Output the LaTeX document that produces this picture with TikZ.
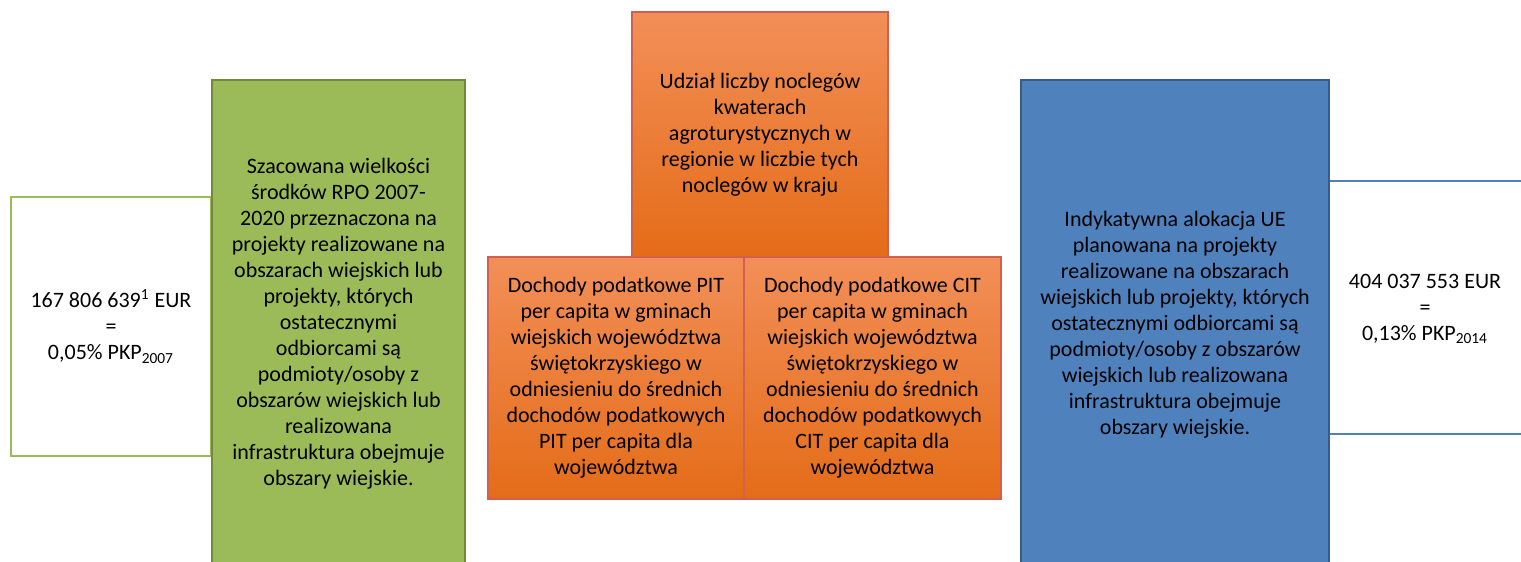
\documentclass[tikz,border=0pt]{standalone}
\usepackage{fontspec}
\setmainfont{Carlito}
\usepackage{tikz}
\usetikzlibrary{positioning}
\definecolor{leafgreen}{RGB}{155,187,89}
\definecolor{darkgreen}{RGB}{113,137,63}
\definecolor{steelblue}{RGB}{79,129,189}
\definecolor{darkblue}{RGB}{56,93,138}
\definecolor{orangetop}{RGB}{242,143,88}
\definecolor{orangebot}{RGB}{228,108,24}
\definecolor{orangeline}{RGB}{210,95,80}

\begin{document}
\begin{tikzpicture}[x=0.5pt, y=-0.5pt,
    every node/.style={font=\fontsize{11pt}{13pt}\selectfont, align=center, inner sep=0pt},
    valuebox/.style={draw=leafgreen, line width=1pt, fill=white},
    greenbox/.style={draw=darkgreen, line width=1pt, fill=leafgreen},
    bluebox/.style={draw=darkblue, line width=1pt, fill=steelblue},
    orangebox/.style={draw=orangeline, line width=0.6pt, top color=orangetop, bottom color=orangebot}]
  \useasboundingbox (0,0) rectangle (1521,562);
  \clip (0,0) rectangle (1521,562);

  % Left value
  \node[valuebox, minimum width=100pt, minimum height=129.5pt] (valueL) at (111,326.5)
    {167 806 639\textsuperscript{1} EUR\\=\\0,05\% PKP\textsubscript{2007}};

  % Green RPO 2007-2020
  \node[greenbox, minimum width=126.5pt, minimum height=244pt] (rpo) at (338.5,324)
    {Szacowana wielkości\\środków RPO 2007-\\2020 przeznaczona na\\projekty realizowane na\\obszarach wiejskich lub\\projekty, których\\ostatecznymi\\odbiorcami są\\podmioty/osoby z\\obszarów wiejskich lub\\realizowana\\infrastruktura obejmuje\\obszary wiejskie.};

  % Orange indicators
  \node[orangebox, minimum width=128pt, minimum height=122.5pt] (noclegi) at (760,134.5)
    {Udział liczby noclegów\\kwaterach\\agroturystycznych w\\regionie w liczbie tych\\noclegów w kraju};
  \node[orangebox, minimum width=128pt, minimum height=121pt] (pit) at (616,378)
    {Dochody podatkowe PIT\\per capita w gminach\\wiejskich województwa\\świętokrzyskiego w\\odniesieniu do średnich\\dochodów podatkowych\\PIT per capita dla\\województwa};
  \node[orangebox, minimum width=128.5pt, minimum height=121pt] (cit) at (872.5,378)
    {Dochody podatkowe CIT\\per capita w gminach\\wiejskich województwa\\świętokrzyskiego w\\odniesieniu do średnich\\dochodów podatkowych\\CIT per capita dla\\województwa};

  % Blue allocation
  \node[bluebox, minimum width=154pt, minimum height=245pt] (alok) at (1175,325)
    {Indykatywna alokacja UE\\planowana na projekty\\realizowane na obszarach\\wiejskich lub projekty, których\\ostatecznymi odbiorcami są\\podmioty/osoby z obszarów\\wiejskich lub realizowana\\infrastruktura obejmuje\\obszary wiejskie.};

  % Right value
  \node (valueR) at (1425,309) {404 037 553 EUR\\=\\0,13\% PKP\textsubscript{2014}};
  \coordinate (topR) at (1521,181);
  \coordinate (botR) at (1521,434);
  \draw[steelblue, line width=1pt] (alok.east |- topR) -- (topR);
  \draw[steelblue, line width=1pt] (alok.east |- botR) -- (botR);
\end{tikzpicture}
\end{document}
